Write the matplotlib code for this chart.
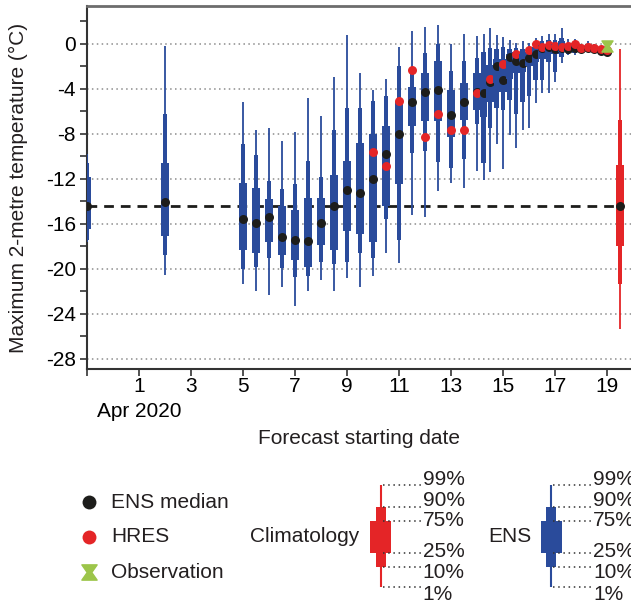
import matplotlib
matplotlib.use('Agg')
import matplotlib.pyplot as plt
from matplotlib.path import Path

plt.rcParams['font.family'] = ['Liberation Sans', 'DejaVu Sans']
plt.rcParams['font.size'] = 15
plt.rcParams['text.color'] = '#231f20'

# forecast start, day of April 2020 (0 = 31 Mar)
starts = [-1, 2, 5, 5.5, 6, 6.5, 7, 7.5, 8, 8.5, 9, 9.5, 10, 10.5, 11, 11.5, 12, 12.5, 13, 13.5,
          14, 14.25, 14.5, 14.75, 15, 15.25, 15.5, 15.75, 16, 16.25, 16.5, 16.75, 17, 17.25, 17.5,
          17.75, 18, 18.25, 18.5, 18.75, 19]

# ENS percentiles (°C)
p99 = [-9.8, -0.2, -5.2, -7.7, -7.5, -8.6, -7.8, -4.8, -6.4, -3.0, 0.8, -2.6, -4.1, -3.1, -0.3, 1.1, 1.5, 1.7, 0.0, 0.9,
       0.7, 0.9, 1.4, 0.8, 0.6, 0.3, 0.1, 0.2, 0.1, 0.5, 0.7, 0.9, 0.9, 1.4, 0.4, 0.4, 0.0, 0.25, -0.05, -0.3, -0.4]
p90 = [-10.6, -6.2, -8.9, -9.9, -12.2, -12.9, -12.5, -10.4, -11.8, -7.7, -5.7, -5.7, -5.1, -4.6, -2.0, -2.6, -0.8, 0.0, -2.4, -1.5,
       -1.3, -0.7, -0.4, -0.5, -0.3, -0.5, -0.4, -0.5, -0.4, 0.0, 0.2, 0.3, 0.3, 0.5, 0.1, 0.1, -0.1, 0.0, -0.2, -0.4, -0.5]
p75 = [-11.8, -10.6, -12.4, -12.8, -13.8, -14.4, -14.8, -13.7, -13.7, -11.7, -10.4, -8.8, -8.0, -7.3, -5.1, -3.8, -2.6, -1.5, -4.1, -3.5,
       -2.6, -2.8, -1.9, -1.4, -1.4, -0.9, -0.7, -0.9, -0.7, -0.3, -0.1, 0.0, 0.0, 0.2, -0.1, -0.1, -0.3, -0.2, -0.35, -0.5, -0.6]
p50 = [-14.4, -14.1, -15.6, -15.9, -15.4, -17.2, -17.4, -17.5, -15.9, -14.4, -13.0, -13.3, -12.0, -9.8, -8.0, -5.2, -4.3, -4.1, -6.3, -5.2,
       -4.3, -4.35, -3.4, -2.0, -3.2, -1.2, -1.5, -1.7, -1.3, -0.9, -0.4, -0.3, -0.5, -0.4, -0.5, -0.35, -0.5, -0.4, -0.5, -0.65, -0.7]
p25 = [-16.5, -17.1, -18.3, -18.6, -17.6, -18.8, -19.2, -19.8, -17.9, -18.3, -16.6, -16.9, -17.6, -14.4, -12.5, -7.3, -6.9, -6.9, -8.3, -6.8,
       -5.9, -6.5, -5.2, -3.5, -4.3, -3.1, -2.6, -2.5, -2.0, -1.6, -1.4, -0.7, -0.9, -0.7, -0.7, -0.6, -0.6, -0.55, -0.65, -0.75, -0.8]
p10 = [-17.4, -18.8, -20.0, -19.8, -19.0, -19.9, -20.7, -20.6, -19.4, -19.6, -19.4, -18.6, -19.0, -15.6, -17.4, -9.7, -9.5, -10.5, -11.0, -10.2,
       -7.1, -10.6, -7.5, -5.7, -5.9, -5.0, -6.2, -5.2, -4.6, -3.2, -3.2, -1.6, -2.5, -1.2, -0.9, -0.8, -0.7, -0.65, -0.75, -0.85, -0.9]
p1 = [-17.6, -20.5, -21.3, -22.0, -22.3, -21.6, -23.3, -22.0, -21.0, -22.0, -20.8, -21.6, -20.6, -18.6, -19.5, -15.2, -15.4, -13.1, -12.4, -12.8,
      -11.3, -12.1, -11.4, -8.9, -11.1, -8.1, -9.3, -7.7, -7.5, -5.3, -4.4, -4.4, -3.4, -1.7, -1.0, -1.0, -0.8, -0.75, -0.85, -0.95, -1.0]

# HRES
hres_days = [10, 10.5, 11, 11.5, 12, 12.5, 13, 13.5, 14, 14.5, 15, 15.5, 16, 16.25, 16.5, 16.75, 17,
             17.25, 17.5, 17.75, 18, 18.25, 18.5, 18.75, 19]
hres = [-9.6, -10.9, -5.1, -2.3, -8.3, -6.2, -7.7, -7.7, -4.4, -3.1, -1.8, -0.9, -0.6, 0.0, -0.3, -0.1, -0.2,
        -0.3, -0.2, 0.0, -0.4, -0.3, -0.35, -0.5, -0.55]

# climatology (p1, p10, p25, p50, p75, p90, p99)
clim_day = 19.5
clim = [-25.3, -21.3, -18.0, -14.4, -10.8, -6.8, -0.5]

obs_day = 19
obs = -0.2

blue = '#2a4b9b'
red = '#e42527'
black = '#1d1d1b'
green = '#9cc54a'

hourglass = Path([(-1, 1), (1, 1), (0.3, 0), (1, -1), (-1, -1), (-0.3, 0), (-1, 1)],
                 [Path.MOVETO, Path.LINETO, Path.LINETO, Path.LINETO, Path.LINETO, Path.LINETO, Path.CLOSEPOLY])

fig = plt.figure(figsize=(6.31, 6.07), dpi=100)
ax = fig.add_axes([87 / 631, 1 - 369 / 607, 544 / 631, 363 / 607])

for i, d in enumerate(starts):
    z = 3 + i * 0.1
    ax.vlines(d, p1[i], p99[i], color=blue, lw=1.3, zorder=z)
    ax.bar(d, p90[i] - p10[i], bottom=p10[i], width=0.17, color=blue, lw=0, zorder=z + 0.01)
    ax.bar(d, p75[i] - p25[i], bottom=p25[i], width=0.29, color=blue, lw=0, zorder=z + 0.02)
    ax.scatter(d, p50[i], s=42, color=black, lw=0, zorder=z + 0.03)
    if d in hres_days:
        j = hres_days.index(d)
        ax.scatter(d, hres[j], s=42, color=red, lw=0, zorder=z + 0.04)

# climatology box
ax.vlines(clim_day, clim[0], clim[6], color=red, lw=1.3, zorder=8)
ax.bar(clim_day, clim[5] - clim[1], bottom=clim[1], width=0.17, color=red, lw=0, zorder=8)
ax.bar(clim_day, clim[4] - clim[2], bottom=clim[2], width=0.29, color=red, lw=0, zorder=8)
ax.scatter(clim_day, clim[3], s=42, color=black, lw=0, zorder=9)
ax.hlines(clim[3], starts[0], clim_day, color=black, lw=2, linestyles=(0, (3.5, 2.5)), zorder=2)

ax.plot(obs_day, obs, marker=hourglass, ms=8, color=green, lw=0, zorder=10)

ax.set_xlim(-1, 19.92)
ax.set_ylim(-28.89, 3.35)

ax.set_xticks(range(-1, 20, 2))
ax.set_xticklabels([''] + ['1\nApr 2020'] + [str(v) for v in range(3, 20, 2)], linespacing=1.4)
ax.set_yticks(range(0, -29, -4))
ax.set_yticklabels([str(v) for v in range(0, -29, -4)])
ax.set_yticks(range(2, -28, -4), minor=True)
ax.tick_params(axis='both', which='both', direction='out', length=5, width=1.2, color='#333333')
ax.tick_params(axis='x', pad=1)
ax.tick_params(axis='y', pad=3)

for v in range(0, -29, -4):
    ax.axhline(v, color='#8c8c8c', lw=1.1, ls=(0, (1, 2.2)), zorder=1)

ax.spines['right'].set_visible(False)
ax.spines['top'].set_color('#6d6d6d')
ax.spines['top'].set_linewidth(2)
for s in ['left', 'bottom']:
    ax.spines[s].set_color('#333333')
    ax.spines[s].set_linewidth(1.5)

fig.text(18 / 631, 1 - 187.5 / 607, 'Maximum 2-metre temperature (°C)', rotation=90, ha='center', va='center')
fig.text(359 / 631, 1 - 438 / 607, 'Forecast starting date', ha='center', va='center')

# legend, drawn in pixel coordinates
lax = fig.add_axes([0, 0, 1, 1])
lax.set_xlim(0, 631)
lax.set_ylim(607, 0)
lax.axis('off')

lax.scatter(89, 502, s=100, color=black, lw=0)
lax.scatter(89, 537, s=100, color=red, lw=0)
lax.plot(89, 572, marker=hourglass, ms=11, color=green, lw=0)
lax.text(111, 502, 'ENS median', va='center')
lax.text(111, 537, 'HRES', va='center')
lax.text(111, 572, 'Observation', va='center')

pct_labels = ['99%', '90%', '75%', '25%', '10%', '1%']
lead_y = [485, 506.7, 520.7, 552.7, 566.5, 586.7]
label_y = [479.3, 500.7, 520.7, 551.7, 573, 595]

for name, cx, col, name_x in [('Climatology', 380.5, red, 359), ('ENS', 551.3, blue, 532)]:
    lax.text(name_x, 537, name, ha='right', va='center')
    lax.vlines(cx, lead_y[0], lead_y[5], color=col, lw=1.5)
    lax.bar(cx, lead_y[4] - lead_y[1], bottom=lead_y[1], width=10, color=col, lw=0)
    lax.bar(cx, lead_y[3] - lead_y[2], bottom=lead_y[2], width=21, color=col, lw=0)
    for ly, ty, lab in zip(lead_y, label_y, pct_labels):
        lax.plot([cx + 2, cx + 40], [ly, ly], color='#333333', lw=1.1, ls=(0, (1, 2.4)))
        lax.text(cx + 42, ty, lab, va='center')

fig.savefig('out.png', dpi=100)
